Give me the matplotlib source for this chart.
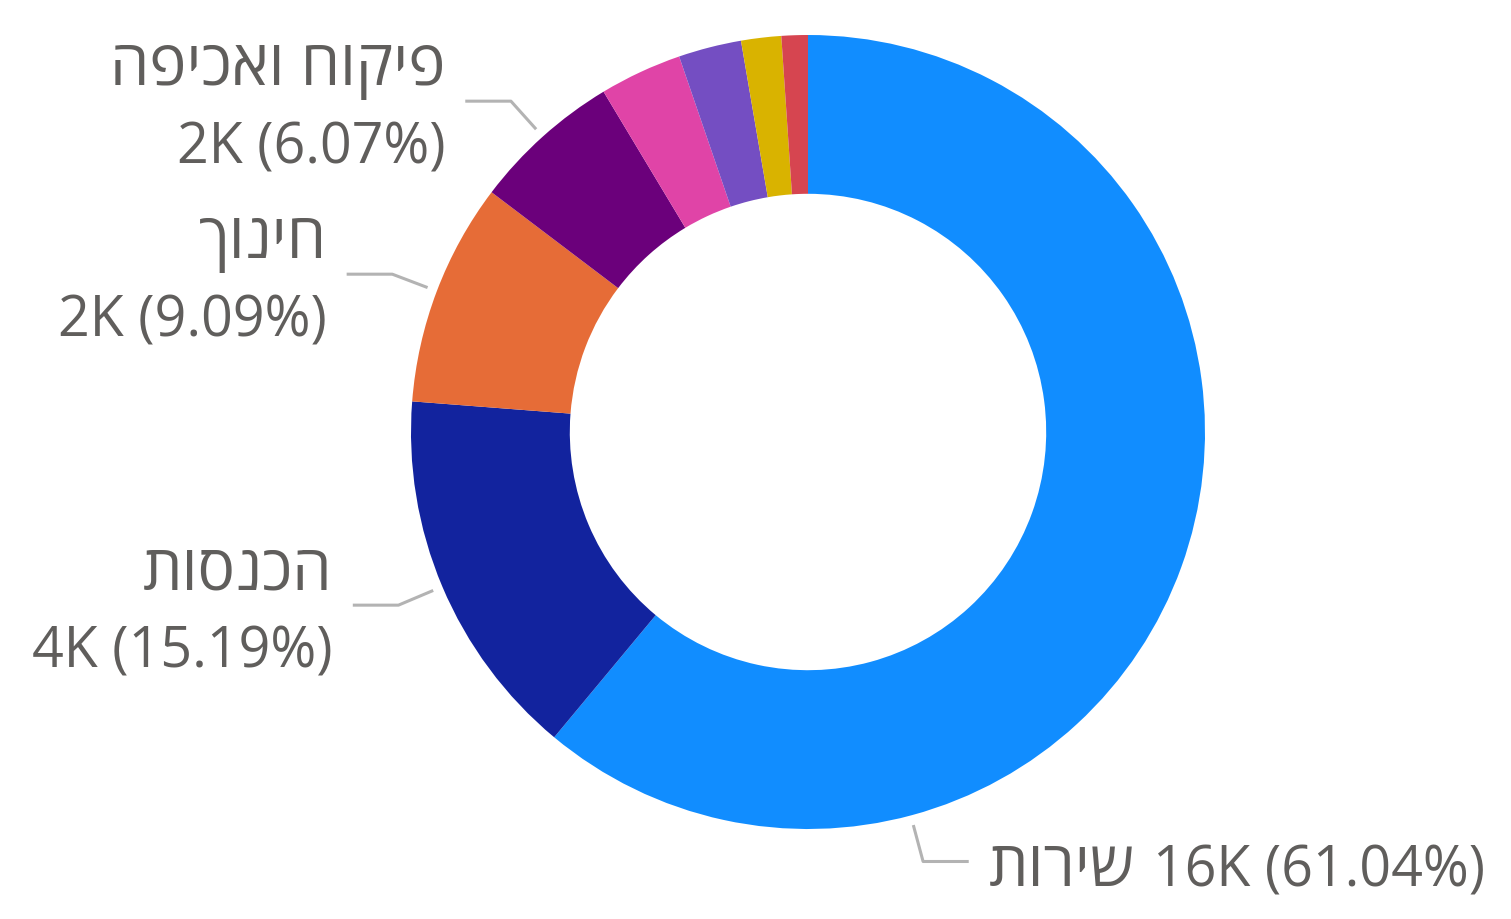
import numpy as np
import matplotlib.pyplot as plt

# données
categories = ["שירות", "הכנסות", "חינוך", "פיקוח ואכיפה", "אחר 1", "אחר 2", "אחר 3", "אחר 4"]
values = [16000, 3982, 2383, 1591, 878, 671, 427, 281]
value_labels = ["16K", "4K", "2K", "2K", "", "", "", ""]
pct_labels = ["61.04%", "15.19%", "9.09%", "6.07%", "", "", "", ""]
colors = ["#118DFF", "#12239E", "#E66C37", "#6B007B", "#E044A7", "#744EC2", "#D9B300", "#D64550"]

plt.rcParams['font.family'] = ['Open Sans', 'DejaVu Sans']
TXT = "#605E5C"
LINE = "#B3B3B3"


def vis(s):
    # matplotlib n'a pas de bidi : on inverse l'hébreu pour l'affichage
    return s[::-1]


W, H, DPI = 1511, 919, 100
fig = plt.figure(figsize=(W / DPI, H / DPI), dpi=DPI)
ax = fig.add_axes([0, 0, 1, 1])
R = 397.0  # rayon en pixels
cx, cy = 808, 432

wedges, _ = ax.pie(values, colors=colors, startangle=90, counterclock=False,
                   radius=1.0, wedgeprops=dict(width=0.4, edgecolor='none'))

# limites après pie() (pie les écrase)
ax.set_xlim(-cx / R, (W - cx) / R)
ax.set_ylim((cy - H) / R, cy / R)
ax.axis('off')

fs = 40      # chiffres
fs_he = 45   # hébreu (glyphes plus petits dans DejaVu)
renderer = fig.canvas.get_renderer()
total = sum(values)
cum = np.cumsum([0] + values)
for i in range(4):
    frac = (cum[i] + cum[i + 1]) / 2 / total
    ang = np.deg2rad(frac * 360)
    if i == 0:
        ang = np.deg2rad(165)  # ancrage décalé pour la grande part
    sx, sy = np.sin(ang), np.cos(ang)
    p0 = (1.025 * sx, 1.025 * sy)
    p1 = (1.12 * sx, 1.12 * sy)
    side = 1 if sx > 0 else -1
    p2 = (p1[0] + side * 0.115, p1[1])
    ax.plot([p0[0], p1[0], p2[0]], [p0[1], p1[1], p2[1]], color=LINE, lw=2.2,
            solid_capstyle='butt')
    tx = p2[0] + side * 20 / R
    num = value_labels[i] + " (" + pct_labels[i] + ")"
    if i == 0:
        yb = p2[1] - 25 / R
        t = ax.text(tx, yb, vis(categories[i]), ha='left', va='baseline',
                    fontsize=fs_he, color=TXT)
        bb = t.get_window_extent(renderer)
        x2 = ax.transData.inverted().transform((bb.x1, 0))[0]
        ax.text(x2 + 18 / R, yb, num, ha='left', va='baseline', fontsize=fs, color=TXT)
    else:
        ax.text(tx, p2[1] + 16 / R, vis(categories[i]), ha='right', va='baseline',
                fontsize=fs_he, color=TXT)
        ax.text(tx, p2[1] - 62 / R, num, ha='right', va='baseline',
                fontsize=fs, color=TXT)

fig.savefig("out.png", dpi=DPI, facecolor='white')
